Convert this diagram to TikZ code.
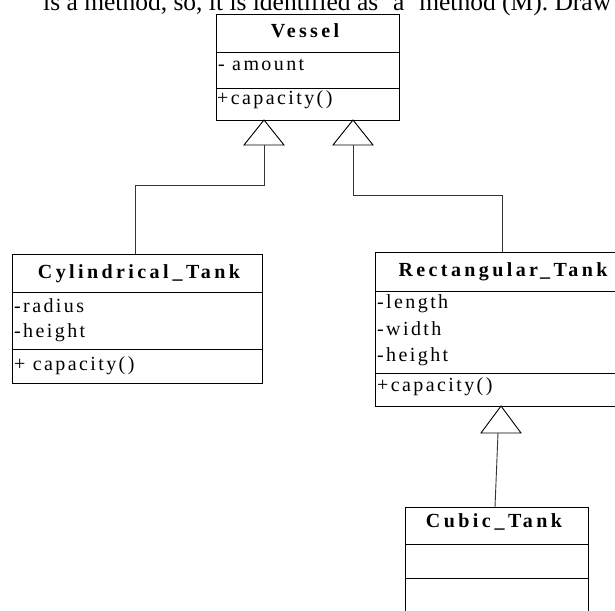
\documentclass[tikz,border=0pt]{standalone}
\usepackage{fontspec}
\setmainfont{Liberation Serif}
\newfontfamily\boxfont[LetterSpace=12]{Liberation Serif}
\newfontfamily\titlefont[LetterSpace=17]{Liberation Serif}
\begin{document}
\begin{tikzpicture}[x=1pt,y=-1pt,
  cls/.style={draw=black, line width=0.9pt, inner sep=0pt, anchor=north west},
  sep/.style={draw=black, line width=0.9pt},
  lbl/.style={anchor=base west, inner sep=0pt, font=\boxfont\fontsize{20}{22}\selectfont},
  ttl/.style={anchor=base, inner sep=0pt, font=\titlefont\bfseries\fontsize{20}{22}\selectfont},
  conn/.style={draw=black!80, line width=0.9pt},
  gen/.style={draw=black, fill=white, line width=0.9pt, line join=miter}]
\useasboundingbox (0,0) rectangle (615,610);

% intro line (cut at top, as in the reference)
\node[anchor=base west, inner sep=0pt, font=\fontsize{25.5}{28}\selectfont] (intro) at (43,10.5)
  {is a method, so, it is identified as `a' method (M). Draw};

% Vessel
\node[cls, minimum width=183pt, minimum height=106pt] (vessel) at (216,14) {};
\draw[sep] (216,52) -- (399,52);
\draw[sep] (216,88) -- (399,88);
\node[ttl] (vesselT) at (305,37.5) {Vessel};
\node[lbl] (vesselA) at (218,70.7) {- amount};
\node[lbl] (vesselM) at (217,104.5) {+capacity()};

% Cylindrical_Tank
\node[cls, minimum width=250pt, minimum height=129pt] (cyl) at (12,254) {};
\draw[sep] (12,292) -- (262,292);
\draw[sep] (12,349) -- (262,349);
\node[ttl] (cylT) at (139,278.3) {Cylindrical\hspace{4pt}\_Tank};
\node[lbl] (cylA1) at (14,312) {-radius};
\node[lbl] (cylA2) at (14,337) {-height};
\node[lbl] (cylM) at (14,370) {+ capacity()};

% Rectangular_Tank
\node[cls, minimum width=250pt, minimum height=154pt] (rect) at (375,252) {};
\draw[sep] (375,291) -- (625,291);
\draw[sep] (375,373) -- (625,373);
\node[ttl] (rectT) at (503,276) {Rectangular\hspace{2pt}\_Tank};
\node[lbl] (rectA1) at (377,308.3) {-length};
\node[lbl] (rectA2) at (377,335) {-width};
\node[lbl] (rectA3) at (377,361.7) {-height};
\node[lbl] (rectM) at (377,391.7) {+capacity()};

% Cubic_Tank
\node[cls, minimum width=183pt, minimum height=120pt] (cub) at (405,507) {};
\draw[sep] (405,544) -- (588,544);
\draw[sep] (405,578) -- (588,578);
\node[ttl] (cubT) at (494,527) {Cubic\hspace{4pt}\_Tank};

% generalisation triangles
\coordinate (tL) at (264,120);
\coordinate (tR) at (353,120);
\coordinate (tC) at (501,406);
\coordinate (bL) at (264,145);
\coordinate (bR) at (353,145);
\coordinate (bC) at (498,433);
\draw[gen] (tL) -- ++(-20,25) -- ++(40,0) -- cycle;
\draw[gen] (tR) -- ++(-20,25) -- ++(40,0) -- cycle;
\draw[gen] (tC) -- ++(-20,27) -- ++(40,0) -- cycle;

% connectors
\draw[conn] (cyl.north west) ++(123,0) |- (264,185) -- (bL);
\draw[conn] (rect.north west) ++(127,0) |- (353,195) -- (bR);
\draw[conn] (cub.north west) ++(90,0) -- (bC);
\end{tikzpicture}
\end{document}
